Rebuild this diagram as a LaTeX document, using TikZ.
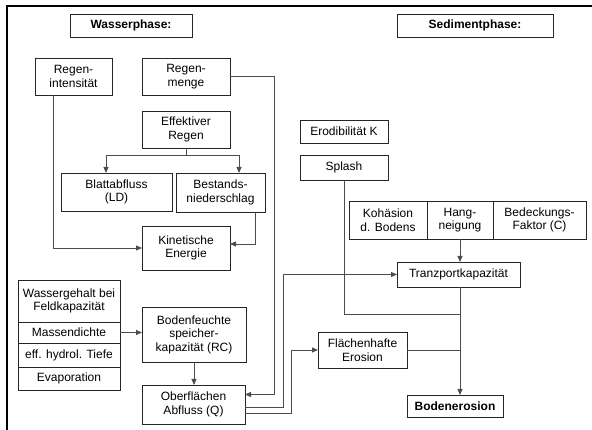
\documentclass[tikz,border=0pt]{standalone}
\usepackage{fontspec}
\setmainfont{Liberation Sans}
\usepackage{tikz}
\usetikzlibrary{arrows.meta, positioning, calc}

\begin{document}
\begin{tikzpicture}[
            x=1pt, y=-1pt,
            box/.style={draw=black!85, line width=0.8pt, inner sep=0pt, outer sep=0pt, align=center, font=\fontsize{12}{13.5}\selectfont},
            head/.style={box, font=\fontsize{12}{13.5}\selectfont\bfseries},
            conn/.style={draw=black!70, line width=0.8pt},
            arr/.style={conn, -{Triangle[width=5pt, length=6pt]}}
        ]
        \useasboundingbox (0,0) rectangle (592,430);

        % The frame
        \draw[line width=2pt] (7,430) -- (7,6) -- (592,6);

        % Headings
        \node[head, minimum width=122, minimum height=23] (wasser) at (131,25.5) {Wasserphase:};
        \node[head, minimum width=156, minimum height=23] (sediment) at (475,25.5) {Sedimentphase:};

        % Water phase
        \node[box, minimum width=77, minimum height=37] (intens) at (73.5,76.5) {Regen-\\intensität};
        \node[box, minimum width=88, minimum height=37] (menge) at (186,76.5) {Regen-\\menge};
        \node[box, minimum width=88, minimum height=37] (effektiv) at (186,129.5) {Effektiver\\Regen};
        \node[box, minimum width=111, minimum height=38] (blatt) at (116.5,192) {Blattabfluss\\(LD)};
        \node[box, minimum width=89, minimum height=39] (bestand) at (220.5,192.5) {Bestands-\\niederschlag};
        \node[box, minimum width=88, minimum height=44] (kinetisch) at (186,248) {Kinetische\\Energie};

        \node[box, minimum width=102, minimum height=42] (wgehalt) at (69,301) {Wassergehalt bei\\Feldkapazität};
        \node[box, minimum width=102, minimum height=21] (massen) at (69,332.5) {Massendichte};
        \node[box, minimum width=102, minimum height=24] (tiefe) at (69,355) {eff. hydrol. Tiefe};
        \node[box, minimum width=102, minimum height=23] (evapo) at (69,378.5) {Evaporation};
        \node[box, minimum width=104, minimum height=55] (boden) at (194,334.5) {Bodenfeuchte\\speicher-\\kapazität (RC)};
        \node[box, minimum width=103, minimum height=39] (abfluss) at (193.5,404.5) {Oberflächen\\Abfluss (Q)};

        % Sediment phase
        \node[box, minimum width=88, minimum height=23] (erodi) at (344,131.5) {Erodibilität K};
        \node[box, minimum width=88, minimum height=25] (splash) at (344,167.5) {Splash};
        \node[box, minimum width=78, minimum height=38] (kohaesion) at (388,220) {Kohäsion\\d. Bodens};
        \node[box, minimum width=66, minimum height=38] (hang) at (460,220) {Hang-\\neigung};
        \node[box, minimum width=93, minimum height=38] (bedeckung) at (539.5,220) {Bedeckungs-\\Faktor (C)};
        \node[box, minimum width=123, minimum height=25] (tranz) at (458.5,274.5) {Tranzportkapazität};
        \node[box, minimum width=89, minimum height=36] (flaech) at (362.5,350) {Flächenhafte\\Erosion};
        \node[head, minimum width=96, minimum height=22] (erosion) at (455,406) {Bodenerosion};

        % Connectors
        \draw[arr] (menge.east) -- ++(44,0) |- ([yshift=10pt]abfluss.east);
        \draw[arr] (effektiv.south) -- ++(0,7) -| ([xshift=-10.5pt]blatt.north);
        \draw[arr] (effektiv.south) -- ++(0,7) -| ([xshift=18.5pt]bestand.north);
        \draw[arr] ([xshift=-20.5pt]intens.south) |- (kinetisch.west);
        \draw[arr] ([xshift=34.5pt]bestand.south) |- ([yshift=4pt]kinetisch.east);
        \draw[arr] (massen.east) -- (massen.east -| boden.west);
        \draw[arr] (boden.south) -- (boden.south |- abfluss.north);
        \draw[arr] ([yshift=-2.5pt]abfluss.east) -- ++(38,0) |- (tranz.west);
        \draw[arr] ([yshift=-8.5pt]abfluss.east) -- ++(46,0) |- (flaech.west);
        \draw[arr] (hang.south) -- (hang.south |- tranz.north);
        \draw[conn] (splash.south) |- ([xshift=1.5pt, yshift=-27pt]tranz.south);
        \draw[conn] (flaech.east) -- (flaech.east -| hang.south);
        \draw[arr] ([xshift=1.5pt]tranz.south) -- ([xshift=1.5pt]tranz.south |- erosion.north);

        \end{tikzpicture}
\end{document}
